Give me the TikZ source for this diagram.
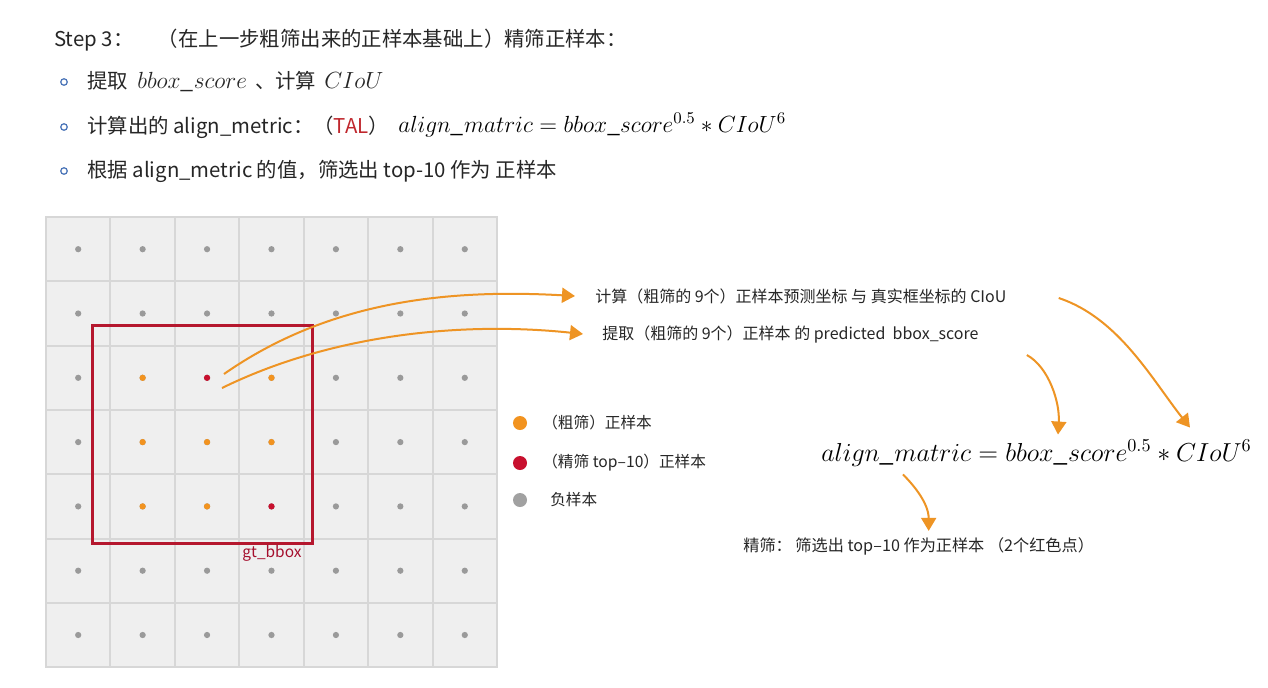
\documentclass[tikz,border=0pt]{standalone}
\usepackage{fix-cm}
\usepackage[no-math]{fontspec}
\setmainfont{Noto Sans CJK SC}
\usetikzlibrary{arrows.meta,calc}
\definecolor{cellgrey}{HTML}{EFEFEF}
\definecolor{gridline}{HTML}{D7D7D7}
\definecolor{dotgrey}{HTML}{9A9A9A}
\definecolor{dotorange}{HTML}{F2931F}
\definecolor{dotred}{HTML}{C8102E}
\definecolor{boxred}{HTML}{B5172E}
\definecolor{labred}{HTML}{A50F2D}
\definecolor{talred}{HTML}{C0272D}
\definecolor{bulblue}{HTML}{4A74B8}
\definecolor{arrorange}{HTML}{EE9424}
\newcommand{\bigmath}[1]{{\fontsize{13.3}{16}\selectfont$#1$}}

\begin{document}
\begin{tikzpicture}[x=0.02cm, y=-0.02cm,
  txt/.style={font=\fontsize{11.6}{13}\selectfont, inner sep=0pt, anchor=west, text=black!85},
  note/.style={font=\fontsize{9.1}{10}\selectfont, inner sep=0pt, anchor=west, text=black!85},
  small/.style={font=\fontsize{8.9}{10}\selectfont, inner sep=0pt, anchor=west, text=black!85},
  bul/.style={circle, draw=bulblue, line width=0.7pt, inner sep=0pt, minimum size=0.13cm},
  cell/.style={fill=cellgrey, draw=gridline, line width=0.04cm},
  gdot/.style={circle, inner sep=0pt, minimum size=0.125cm, fill=dotgrey},
  lgdot/.style={circle, inner sep=0pt, minimum size=0.28cm},
  oa/.style={-{Triangle[length=0.26cm,width=0.3cm]}, draw=arrorange, line width=0.04cm}
]
\useasboundingbox[fill=white] (0,0) rectangle (1268,687);
% ----- header and bullets -----
\node[txt] (step) at (54,40) {Step 3：\hspace{1.2em}（在上一步粗筛出来的正样本基础上）精筛正样本：};
\node[bul] (b1) at (64,82) {};
\node[bul] (b2) at (64,127) {};
\node[bul] (b3) at (64,171) {};
\node[txt] (l1) at (87,82) {提取\hspace{0.45em}\bigmath{bbox\_score}\hspace{0.4em}、计算\hspace{0.4em}\bigmath{CIoU}};
\node[txt] (l2) at (87,127) {计算出的 align\_metric：（\textcolor{talred}{TAL}）};
\node[anchor=west, inner sep=0pt] (f1) at (398,125) {\bigmath{align\_matric = bbox\_score^{0.5} * CIoU^6}};
\node[txt] (l3) at (87,171) {根据 align\_metric 的值，筛选出 top-10 作为 正样本};
% ----- feature grid -----
\foreach \i in {0,...,6}
  \foreach \j in {0,...,6}
    \draw[cell] ({46+64.43*\i},{217+64.3*\j}) rectangle ++(64.43,64.3);
\foreach \i in {0,...,6}
  \foreach \j in {0,...,6}
    \node[gdot] (d\i\j) at ({78.2+64.43*\i},{249.2+64.3*\j}) {};
% coarse and fine positives inside the gt box
\foreach \i/\j/\c in {1/2/dotorange, 2/2/dotred, 3/2/dotorange,
                      1/3/dotorange, 2/3/dotorange, 3/3/dotorange,
                      1/4/dotorange, 2/4/dotorange, 3/4/dotred}
  \node[gdot, fill=\c] at (d\i\j) {};
\draw[boxred, line width=0.06cm] (92,325) rectangle (312,543);
\node[font=\fontsize{8.8}{10}\selectfont, text=labred, inner sep=0pt] (gt) at (272,553) {gt\_bbox};
% ----- annotations -----
\coordinate (s1) at (224,374);
\coordinate (s2) at (222,388);
\node[note] (ciou) at (595,296) {计算（粗筛的 9个）正样本预测坐标 与 真实框坐标的 CIoU};
\node[note] (score) at (602,334) {提取（粗筛的 9个）正样本 的 predicted \ bbox\_score};
\node[anchor=west, inner sep=0pt, font=\fontsize{14.8}{17}\selectfont] (fm) at (821,453)
  {$align\_matric = bbox\_score^{0.5} * CIoU^6$};
\node[font=\fontsize{9.2}{10}\selectfont, inner sep=0pt, anchor=west, text=black!85] (fine) at (743,546)
  {精筛： 筛选出 top–10 作为正样本 （2个红色点）};
% ----- legend -----
\node[lgdot, fill=dotorange] (lo) at (520,423) {};
\node[lgdot, fill=dotred] (lr) at (520,463) {};
\node[lgdot, fill=black!37] (lg) at (520,500) {};
\node[small] (lot) at (542,423) {（粗筛）正样本};
\node[small] (lrt) at (542,463) {（精筛 top–10）正样本};
\node[small] (lgt) at (550,500) {负样本};
% ----- arrows -----
\draw[oa] (s1) .. controls +(106,-74) and +(-125,-7) .. ([xshift=-0.4cm]ciou.west);
\draw[oa] (s2) .. controls +(108,-53) and +(-123,-13) .. ([xshift=-0.38cm]score.west);
\draw[oa] ([xshift=1.04cm,yshift=-0.04cm]ciou.east) .. controls +(60,20) and +(-38,-48)
  .. ([xshift=3.07cm,yshift=0.24cm]fm.north);
\draw[oa] ([xshift=0.96cm,yshift=-0.24cm]score.south east) .. controls +(22,12) and +(2,-32)
  .. ([xshift=0.43cm,yshift=0.1cm]fm.north);
\draw[oa] ([xshift=1.64cm,yshift=-0.16cm]fm.south west) .. controls +(12,12) and +(0,-27)
  .. ([xshift=0.2cm,yshift=0.12cm]fine.north);
\end{tikzpicture}
\end{document}
